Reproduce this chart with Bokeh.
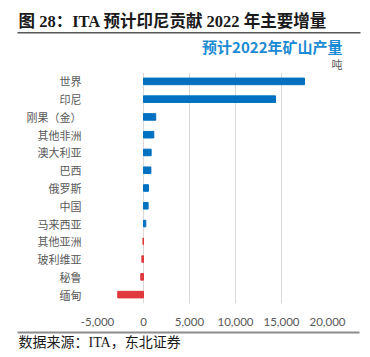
from bokeh.plotting import figure
from bokeh.models import FactorRange, NumeralTickFormatter, FixedTicker, ColumnDataSource
from bokeh.layouts import column
from bokeh.core.properties import value
from bokeh.embed import file_html
from bokeh.resources import INLINE

categories = ["世界", "印尼", "刚果（金）", "其他非洲", "澳大利亚", "巴西", "俄罗斯",
              "中国", "马来西亚", "其他亚洲", "玻利维亚", "秘鲁", "缅甸"]
values = [17500, 14350, 1330, 1120, 830, 800, 540, 500, 250, -60, -180, -300, -2800]
x_ticks = [-5000, 0, 5000, 10000, 15000, 20000]
title_text = "图 28：ITA 预计印尼贡献 2022 年主要增量"
subtitle_text = "预计2022年矿山产量"
unit_text = "吨"
source_text = "数据来源：ITA，东北证券"

BLUE = "#0070C0"
RED = "#E0393E"
colors = [BLUE if v >= 0 else RED for v in values]

W = 362
HEAD_H = 72
FOOT_H = 21
FL, FR = 97, 327
FRAME_H = 236
BOTTOM_B = 20

SERIF = "Liberation Serif, Noto Sans CJK SC"
SANS = "Noto Sans CJK SC"


def no_align(f):
    try:
        f.frame_align = False
    except Exception:
        pass


def blank(h):
    f = figure(width=W, height=h, output_backend="svg", toolbar_location=None,
               x_range=(0, W), y_range=(h, 0), min_border=0,
               x_axis_location=None, y_axis_location=None)
    f.outline_line_color = None
    f.grid.grid_line_color = None
    f.background_fill_color = "white"
    f.border_fill_color = "white"
    no_align(f)
    return f


def txt(f, x, y, t, font, size, color, align="left", style="normal"):
    f.text(x=[x], y=[y], text=[t], text_font=value(font), text_font_size=value(size),
           text_color=color, text_align=align, text_baseline="middle",
           text_font_style=style)


# header
head = blank(HEAD_H)
txt(head, 18, 20.5, title_text, SERIF, "16.5px", "#1a1a1a", style="bold")
head.segment(x0=[17], y0=[32.3], x1=[360], y1=[32.3], line_width=1.5, line_color="#595959")
txt(head, 342, 46, subtitle_text, SANS, "15px", "#1B8AD3", align="right", style="bold")
txt(head, 342, 63, unit_text, SANS, "11px", "#595959", align="right")

# main chart
src = ColumnDataSource(dict(cat=categories, val=values, color=colors))
p = figure(width=W, height=FRAME_H + BOTTOM_B, output_backend="svg", toolbar_location=None,
           y_range=FactorRange(*reversed(categories), range_padding=0),
           x_range=(x_ticks[0], x_ticks[-1]),
           min_border_left=FL, min_border_right=W - FR,
           min_border_top=0, min_border_bottom=BOTTOM_B)
no_align(p)
p.hbar(y="cat", left=0, right="val", height=0.37, color="color", source=src)

p.outline_line_color = None
p.background_fill_color = "white"
p.border_fill_color = "white"
p.ygrid.grid_line_color = None
p.xgrid.grid_line_color = "#D9D9D9"
p.xgrid.grid_line_width = 1
p.xaxis.ticker = FixedTicker(ticks=x_ticks)
p.xaxis.formatter = NumeralTickFormatter(format="0,0")
for ax in (p.xaxis[0], p.yaxis[0]):
    ax.axis_line_color = None
    ax.major_tick_line_color = None
    ax.minor_tick_line_color = None
    ax.major_label_text_color = "#595959"
p.xaxis.major_label_text_font = "Lato"
p.xaxis.major_label_text_font_size = "11.5px"
p.xaxis.major_label_standoff = 8
p.yaxis.major_label_text_font = SANS
p.yaxis.major_label_text_font_size = "11px"
p.yaxis.major_label_standoff = 10

# footer
foot = blank(FOOT_H)
foot.segment(x0=[17], y0=[4], x1=[359], y1=[4], line_width=2, line_color="#8C8C8C")
txt(foot, 18, 14, source_text, SERIF, "14px", "#1a1a1a")

layout = column(head, p, foot, spacing=0)
open("out.html", "w").write(file_html(layout, INLINE))
